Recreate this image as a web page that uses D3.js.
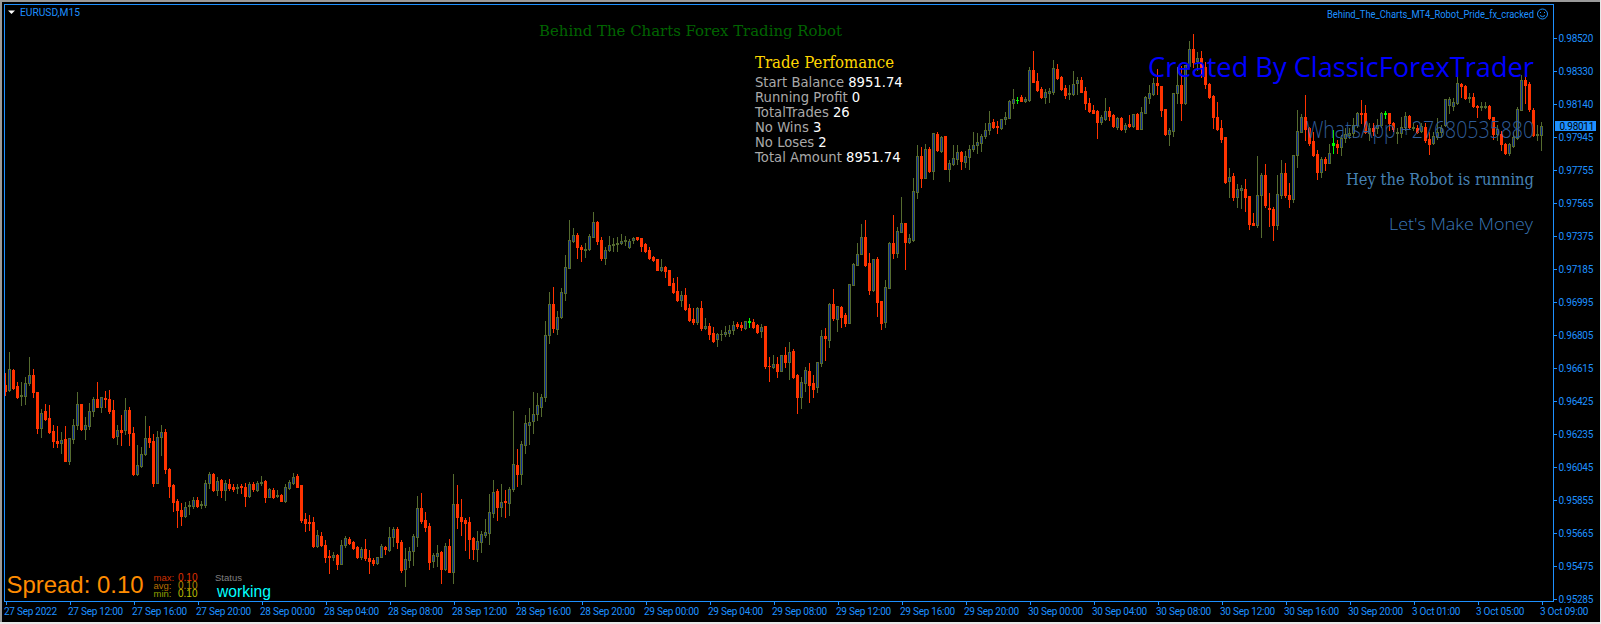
<!DOCTYPE html>
<html>
<head>
<meta charset="utf-8">
<script src="https://cdn.jsdelivr.net/npm/d3@7"></script>
<style>
html,body{margin:0;padding:0;background:#000;overflow:hidden}
svg{display:block}
text{white-space:pre}
.ax text{font-family:Roboto,sans-serif;font-size:10px;letter-spacing:-.25px;fill:#1e90ff}
</style>
</head>
<body>
<div id="chart"></div>
<script>
const opens=[96519,96490,96605,96513,96453,96455,96528,96576,96476,96269,
96367,96327,96254,96196,96186,96207,96083,96209,96288,96407,
96263,96282,96371,96436,96394,96442,96436,96375,96225,96259,
96259,96375,96240,96006,96052,96119,96211,96196,95956,96221,
96248,96035,95940,95848,95798,95764,95821,95823,95856,95825,
95827,95952,96004,95914,95969,95914,95948,95929,95927,95937,
95929,95879,95948,95914,95956,95967,95875,95914,95877,95883,
95848,95923,95956,95994,95940,95744,95729,95729,95593,95648,
95597,95533,95529,95537,95489,95597,95631,95612,95585,95525,
95572,95520,95510,95491,95529,95587,95568,95645,95687,
95611,95456,95509,95563,95640,95807,95740,95705,95505,95532,
95555,95456,95590,95442,95832,95755,95740,95728,95634,95575,
95615,95655,95667,95782,95905,95817,95849,95840,95917,96055,
96007,96174,96289,96312,96351,96393,96447,96804,96988,96842,
96908,97050,97194,97350,97382,97311,97298,97302,97373,97457,
97352,97252,97296,97323,97332,97334,97346,97315,97353,97369,
97363,97329,97294,97256,97242,97184,97196,97181,97104,97058,
97010,97035,96962,96896,96883,96965,96848,96858,96816,96781,
96810,96814,96819,96833,96869,96864,96846,96885,96881,96862,
96831,96856,96629,96623,96639,96600,96691,96652,96712,96574,
96451,96532,96599,96528,96505,96647,96801,96780,96985,96901,
96968,96922,96877,97094,97212,97273,97371,97221,97066,97244,
97002,96881,97079,97335,97281,97402,97450,97342,97354,97632,
97838,97711,97876,97753,97965,97869,97951,97765,97792,97819,
97861,97805,97834,97876,97899,97915,97953,97988,98032,98011,
98001,98049,98057,98145,98163,98176,98157,98161,98333,98270,
98222,98180,98199,98207,98337,98291,98228,98193,98195,98257,
98276,98211,98141,98103,98097,98036,98051,98097,98072,98007,
98057,97995,98020,98011,98078,97995,98088,98172,98195,98257,
98241,98107,97965,97984,98203,98247,98145,98357,98453,98387,
98401,98353,98253,98184,98061,97997,97946,97696,97723,97600,
97642,97646,97607,97450,97442,97611,97728,97540,97533,97440,
97613,97738,97613,97590,97842,97978,98061,97997,97924,97849,
97748,97821,97800,97911,97907,97888,97940,97961,97969,98015,
98084,98084,97969,97999,97999,98015,98084,98084,98026,97969,
97969,98003,98069,97997,98001,97984,98003,97934,97911,97949,
97976,98017,98132,98128,98141,98253,98241,98170,98176,98126,
98118,98118,98126,98061,97965,97965,97907,97857,97896,97940,
98103,98276,98253,98103,97961,97959];
const closes=[96486,96609,96499,96451,96459,96528,96576,96476,96269,96359,
96325,96250,96194,96186,96202,96083,96211,96288,96407,96263,
96286,96371,96436,96394,96448,96436,96371,96221,96259,96250,
96375,96240,96006,96058,96119,96211,96192,95952,96221,96248,
96036,95938,95842,95798,95766,95817,95827,95856,95823,95831,
95952,96006,95914,95967,95914,95952,95927,95917,95931,95933,
95879,95948,95921,95952,95962,95875,95917,95871,95883,95852,
95933,95958,95987,95933,95741,95725,95723,95593,95652,95598,
95529,95529,95537,95489,95597,95639,95610,95581,95529,95572,
95520,95506,95491,95525,95591,95572,95645,95687,95614,
95452,95513,95561,95648,95807,95736,95701,95500,95536,95552,
95456,95590,95442,95832,95759,95736,95724,95632,95571,95619,
95657,95669,95784,95899,95817,95842,95846,95917,96061,96007,
96176,96297,96307,96351,96403,96447,96804,96988,96846,96908,
97052,97196,97352,97380,97311,97300,97302,97377,97455,97350,
97252,97296,97323,97329,97336,97346,97352,97350,97363,97361,
97321,97290,97252,97240,97184,97196,97177,97096,97056,97010,
97035,96958,96894,96883,96965,96846,96858,96814,96771,96812,
96814,96821,96833,96867,96856,96852,96885,96881,96854,96823,
96850,96629,96625,96639,96600,96689,96652,96706,96566,96451,
96536,96605,96520,96497,96649,96801,96791,96985,96905,96972,
96912,96878,97098,97214,97273,97371,97210,97066,97244,96998,
96877,97083,97338,97281,97406,97450,97342,97363,97634,97838,
97711,97876,97751,97968,97872,97945,97765,97796,97824,97861,
97811,97838,97876,97899,97919,97953,97988,98030,98007,98003,
98053,98061,98153,98164,98159,98157,98164,98333,98266,98218,
98180,98207,98214,98343,98285,98226,98191,98199,98251,98276,
98209,98141,98099,98088,98036,98061,98095,98068,98013,98057,
97992,98018,98011,98078,97993,98090,98176,98199,98257,98245,
98103,97965,97988,98199,98247,98145,98360,98453,98382,98401,
98353,98251,98180,98061,97994,97938,97690,97715,97600,97646,
97652,97604,97446,97442,97613,97728,97556,97534,97440,97619,
97738,97613,97590,97844,97982,98061,97992,97915,97842,97748,
97823,97800,97853,97903,97888,97940,97963,97972,98017,98088,
98078,97978,97997,97984,98017,98088,98080,98026,97992,97974,
98007,98069,98007,98003,97978,98011,97930,97907,97953,97978,
97997,98168,98168,98149,98261,98241,98174,98180,98126,98118,
98126,98126,98055,97965,97992,97907,97857,97907,97946,98107,
98276,98247,98107,97959,97965,98011];
const highs=[96586,96711,96609,96538,96538,96563,96678,96609,96480,96378,
96409,96403,96288,96282,96250,96282,96211,96323,96480,96407,
96336,96413,96451,96536,96451,96486,96490,96432,96288,96346,
96442,96394,96275,96173,96163,96340,96282,96236,96255,96288,
96263,96038,95948,95860,95837,95846,95852,95871,95871,95852,
95971,96019,96010,95987,95975,95971,95975,95948,95948,95948,
95956,95962,95962,95967,95994,95971,95927,95923,95914,95890,
95948,95971,96010,96006,95940,95779,95769,95760,95683,95673,
95625,95568,95558,95545,95625,95648,95645,95622,95591,95587,
95631,95568,95520,95529,95602,95591,95698,95702,95702,
95625,95577,95586,95657,95878,95894,95788,95724,95552,95596,
95563,95605,95628,96005,95942,95861,95749,95759,95640,95676,
95678,95744,95890,95970,95918,95947,95913,95932,96370,96149,
96195,96345,96383,96478,96474,96466,96889,97052,97081,96946,
97075,97267,97469,97426,97392,97325,97334,97388,97513,97461,
97373,97311,97377,97363,97369,97388,97377,97357,97369,97373,
97367,97338,97315,97261,97246,97242,97204,97183,97133,97138,
97061,97077,96988,96965,96969,97002,96904,96873,96854,96816,
96835,96858,96864,96885,96881,96881,96889,96904,96896,96869,
96869,96858,96681,96691,96681,96693,96735,96764,96725,96581,
96563,96624,96643,96576,96653,96835,96849,96993,97071,96974,
96974,96935,97098,97219,97335,97444,97469,97281,97244,97258,
97002,97123,97342,97498,97431,97603,97450,97388,97709,97901,
97892,97907,97892,97968,97978,97953,97955,97815,97901,97901,
97865,97869,97901,97976,97968,97965,98030,98097,98049,98041,
98053,98093,98161,98222,98180,98189,98180,98353,98443,98314,
98234,98222,98228,98391,98366,98299,98247,98247,98330,98291,
98291,98237,98170,98132,98103,98074,98170,98118,98080,98065,
98061,98026,98076,98078,98084,98118,98184,98247,98285,98337,
98241,98107,97997,98203,98353,98357,98362,98501,98541,98439,
98445,98382,98257,98190,98151,98045,97949,97767,97738,97677,
97671,97704,97607,97511,97838,97738,97792,97623,97542,97728,
97815,97796,97680,97844,98103,98080,98190,98007,97978,97873,
97834,97834,97907,97988,97930,97959,97997,97997,98055,98093,
98161,98132,98030,98030,98049,98093,98099,98088,98036,97997,
98065,98093,98074,98030,98017,98030,98030,97978,97978,98055,
98017,98168,98176,98170,98291,98257,98247,98203,98199,98132,
98151,98151,98132,98065,98017,97984,97915,97911,97978,98122,
98305,98291,98266,98113,98017,98036];
const lows=[96461,96486,96494,96442,96403,96409,96519,96448,96240,96217,
96317,96240,96159,96163,96129,96083,96063,96182,96263,96259,
96206,96263,96340,96394,96365,96394,96355,96211,96179,96173,
96236,96173,96000,96000,96044,96115,96163,95937,95952,96115,
96010,95871,95794,95698,95712,95756,95775,95808,95814,95808,
95817,95923,95910,95885,95871,95856,95914,95910,95898,95898,
95821,95871,95910,95910,95942,95844,95871,95866,95871,95848,
95844,95917,95948,95929,95731,95679,95683,95587,95587,95591,
95500,95433,95510,95460,95487,95583,95602,95575,95522,95518,
95510,95433,95483,95487,95525,95545,95564,95591,95577,
95442,95359,95471,95480,95590,95721,95678,95457,95467,95475,
95379,95452,95440,95379,95694,95653,95567,95521,95513,95505,
95557,95644,95602,95759,95740,95763,95759,95769,95909,95936,
95947,96124,96178,96243,96316,96339,96428,96762,96825,96812,
96902,97008,97194,97344,97248,97234,97257,97296,97373,97330,
97238,97215,97292,97292,97292,97330,97323,97307,97334,97353,
97290,97284,97246,97234,97181,97177,97142,97092,97050,97004,
96973,96950,96889,96869,96869,96835,96842,96781,96768,96743,
96777,96800,96800,96812,96846,96835,96842,96850,96846,96816,
96796,96616,96543,96616,96566,96597,96620,96554,96560,96358,
96386,96482,96422,96451,96480,96628,96663,96739,96893,96832,
96855,96860,96874,97094,97208,97273,97206,97043,97062,96916,
96839,96850,97075,97252,97254,97400,97189,97335,97350,97594,
97657,97709,97748,97707,97869,97861,97761,97696,97786,97792,
97765,97776,97765,97869,97853,97869,97940,97965,97997,97972,
97995,98022,98055,98113,98145,98153,98151,98157,98262,98214,
98174,98145,98147,98195,98280,98218,98170,98164,98189,98195,
98205,98107,98093,98084,97942,98022,98045,98045,98007,97995,
97988,97978,98003,98003,97992,97995,98084,98141,98189,98195,
98070,97959,97903,97953,98141,98045,98138,98353,98353,98333,
98295,98228,98170,97997,97988,97921,97684,97604,97584,97546,
97536,97523,97415,97440,97431,97373,97542,97435,97354,97415,
97594,97604,97542,97575,97776,97976,97930,97901,97838,97707,
97719,97757,97796,97853,97853,97842,97921,97940,97949,98007,
98026,97969,97930,97959,97969,98003,98055,97988,97984,97915,
97946,97988,97999,97988,97969,97978,97921,97849,97907,97934,
97949,98011,98084,98103,98138,98180,98165,98151,98122,98065,
98103,98113,98049,97934,97930,97873,97849,97846,97892,97934,
98103,98141,98099,97953,97930,97873];
const dojiBars=[186,253,332,345];
const priceTicks=[98520,98330,98140,97945,97755,97565,97375,97185,96995,96805,96615,96425,96235,96045,95855,95665,95475,95285];
const timeLabels=["27 Sep 2022","27 Sep 12:00","27 Sep 16:00","27 Sep 20:00","28 Sep 00:00","28 Sep 04:00","28 Sep 08:00","28 Sep 12:00","28 Sep 16:00","28 Sep 20:00","29 Sep 00:00","29 Sep 04:00","29 Sep 08:00","29 Sep 12:00","29 Sep 16:00","29 Sep 20:00","30 Sep 00:00","30 Sep 04:00","30 Sep 08:00","30 Sep 12:00","30 Sep 16:00","30 Sep 20:00","3 Oct 01:00","3 Oct 05:00","3 Oct 09:00"];
const barsPerLabel=16;
const lastPrice=98011;
const statLabels=["Start Balance ","Running Profit ","TotalTrades ","No Wins ","No Loses ","Total Amount "];
const statValues=["8951.74","0","26","3","2","8951.74"];
const spreadRows=[["max:","0.10"],["avg:","0.10"],["min:","0.10"]];

const W=1601,H=624;
const BLUE="#1e90ff",OLIVE="#556b2f",RED="#ff3300",INNER="#0c2a9c",LIME="#00ff00";
const svg=d3.select("#chart").append("svg").attr("width",W).attr("height",H);

// window chrome
svg.append("rect").attr("width",W).attr("height",H).attr("fill","#000");
const chrome=svg.append("g").attr("shape-rendering","crispEdges").attr("fill","#9a9a9a");
chrome.append("rect").attr("width",W).attr("height",2);
chrome.append("rect").attr("width",2).attr("height",H);
chrome.append("rect").attr("x",W-1).attr("width",1).attr("height",H).attr("fill","#e8e8e8");
chrome.append("rect").attr("y",H-2).attr("width",W).attr("height",2).attr("fill","#e8e8e8");

const x=d3.scaleLinear().domain([0,opens.length-1]).range([5.5,5.5+4*(opens.length-1)]);
const y=d3.scaleLinear().domain([95285,98520]).range([599,37.7]);
const py=v=>Math.round(y(v));

const bars=d3.range(opens.length).map(i=>({i,o:opens[i],c:closes[i],h:highs[i],l:lows[i],doji:dojiBars.includes(i)}));
const g=svg.append("g").attr("shape-rendering","crispEdges");
const colour=d=>d.doji?LIME:(d.c>=d.o?OLIVE:RED);
g.selectAll("line.w").data(bars).join("line").attr("class","w")
 .attr("x1",d=>x(d.i)).attr("x2",d=>x(d.i))
 .attr("y1",d=>py(d.h)).attr("y2",d=>py(d.l)+1)
 .attr("stroke",colour);
g.selectAll("rect.b").data(bars).join("rect").attr("class","b")
 .attr("x",d=>x(d.i)-1.5).attr("width",3)
 .attr("y",d=>py(Math.max(d.o,d.c)))
 .attr("height",d=>Math.max(1,py(Math.min(d.o,d.c))-py(Math.max(d.o,d.c))+1))
 .attr("fill",colour);
g.selectAll("rect.i").data(bars.filter(d=>!d.doji&&d.c>=d.o&&py(d.o)-py(d.c)>=2)).join("rect").attr("class","i")
 .attr("x",d=>x(d.i)-.5).attr("width",1)
 .attr("y",d=>py(d.c)+1)
 .attr("height",d=>py(d.o)-py(d.c)-1)
 .attr("fill",INNER);

// frame
const frame=svg.append("g").attr("shape-rendering","crispEdges").attr("stroke",BLUE).attr("fill","none");
frame.append("rect").attr("x",4.5).attr("y",4.5).attr("width",1549).attr("height",597);

// axes
const yAxis=d3.axisRight(y).tickValues(priceTicks).tickSize(3).tickPadding(2)
 .tickFormat(v=>(v/100000).toFixed(5));
const ya=svg.append("g").attr("class","ax").attr("transform","translate(1553.5,0)").call(yAxis);
ya.select(".domain").remove();
ya.selectAll("line").attr("stroke",BLUE).attr("shape-rendering","crispEdges");
ya.selectAll("text").attr("dy","0.34em");

const tickBars=timeLabels.map((_,k)=>k*barsPerLabel);
const xAxis=d3.axisBottom(x).tickValues(tickBars).tickSize(3).tickPadding(3)
 .tickFormat((v,k)=>timeLabels[k]);
const xa=svg.append("g").attr("class","ax").attr("transform","translate(0,601.5)").call(xAxis);
xa.select(".domain").remove();
xa.selectAll("line").attr("stroke",BLUE).attr("shape-rendering","crispEdges");
xa.selectAll("text").attr("text-anchor","start").attr("x",-2);

// current price tag
const tagY=y(lastPrice);
svg.append("rect").attr("x",1555).attr("y",Math.round(tagY)-5).attr("width",41).attr("height",10).attr("fill",BLUE).attr("shape-rendering","crispEdges");
svg.append("text").attr("x",1559.5).attr("y",tagY+3.6).text((lastPrice/100000).toFixed(5))
 .attr("font-family","Roboto,sans-serif").attr("font-size",10).attr("letter-spacing","-.25").attr("fill","#000");

// text helper
function label(s,xp,yp,opt){
 const t=svg.append("text").attr("x",xp).attr("y",yp).text(s)
  .attr("font-family",opt.f).attr("font-size",opt.s).attr("fill",opt.c);
 if(opt.a)t.attr("text-anchor",opt.a);
 if(opt.w)t.attr("font-weight",opt.w);
 if(opt.len)t.attr("textLength",opt.len).attr("lengthAdjust","spacingAndGlyphs");
 return t;
}
const SANS="Roboto,sans-serif",SERIF="'DejaVu Serif',serif",LIB="'Liberation Sans',sans-serif",VER="'DejaVu Sans',sans-serif",OPEN="'Open Sans',sans-serif";

// top left symbol
svg.append("path").attr("d","M8,10.5h7l-3.5,3.5z").attr("fill","#fff");
label("EURUSD,M15",20,16,{f:SANS,s:10,c:BLUE,len:60});
// top right EA name + smiley
label("Behind_The_Charts_MT4_Robot_Pride_fx_cracked",1327,17.5,{f:SANS,s:10,c:BLUE,len:207});
const sm=svg.append("g").attr("fill","none").attr("stroke",BLUE);
sm.append("circle").attr("cx",1542.5).attr("cy",14).attr("r",5);
sm.append("path").attr("d","M1540,15.5q2.5,2.5,5,0");
sm.append("path").attr("d","M1540.5,12v1M1544.5,12v1");

label("Behind The Charts Forex Trading Robot",539,36,{f:SERIF,s:15.5,c:"#006400",len:303});
label("Trade Perfomance",755,68,{f:SERIF,s:16,c:"#ffd700",len:139});
statLabels.forEach((s,k)=>{
 const t=svg.append("text").attr("x",755).attr("y",87.3+15*k)
  .attr("font-family",VER).attr("font-size",13.2);
 t.append("tspan").attr("fill","#a9a9a9").text(s);
 t.append("tspan").attr("fill","#fff").text(statValues[k]);
});
label("Created By ClassicForexTrader",1534,77,{f:OPEN,s:28,c:"#0000ff",a:"end",len:386});
label("WhatsApp +27680535880",1534,138,{f:OPEN,s:23,w:300,c:"#2f5c98",a:"end",len:228});
label("Hey the Robot is running",1534,185,{f:SERIF,s:17,c:"#4682b4",a:"end",len:188});
label("Let's Make Money",1533,230,{f:OPEN,s:16.5,w:300,c:"#3a78b8",a:"end",len:144});

// bottom left
label("Spread: 0.10",6.5,593,{f:LIB,s:24,c:"#ff8c00",len:137});
const spreadLab=["#d03000","#b87000","#90a000"],spreadVal=["#e03000","#b88a00","#c0c000"];
spreadRows.forEach((r,k)=>{
 label(r[0],153.5,581+8*k,{f:LIB,s:9.5,c:spreadLab[k]});
 label(r[1],178,581+8*k,{f:LIB,s:10,c:spreadVal[k]});
});
label("Status",215,581,{f:LIB,s:9.5,c:"#808080"});
label("working",217,597,{f:LIB,s:16,c:"#00ffff",len:54});
</script>
</body>
</html>
